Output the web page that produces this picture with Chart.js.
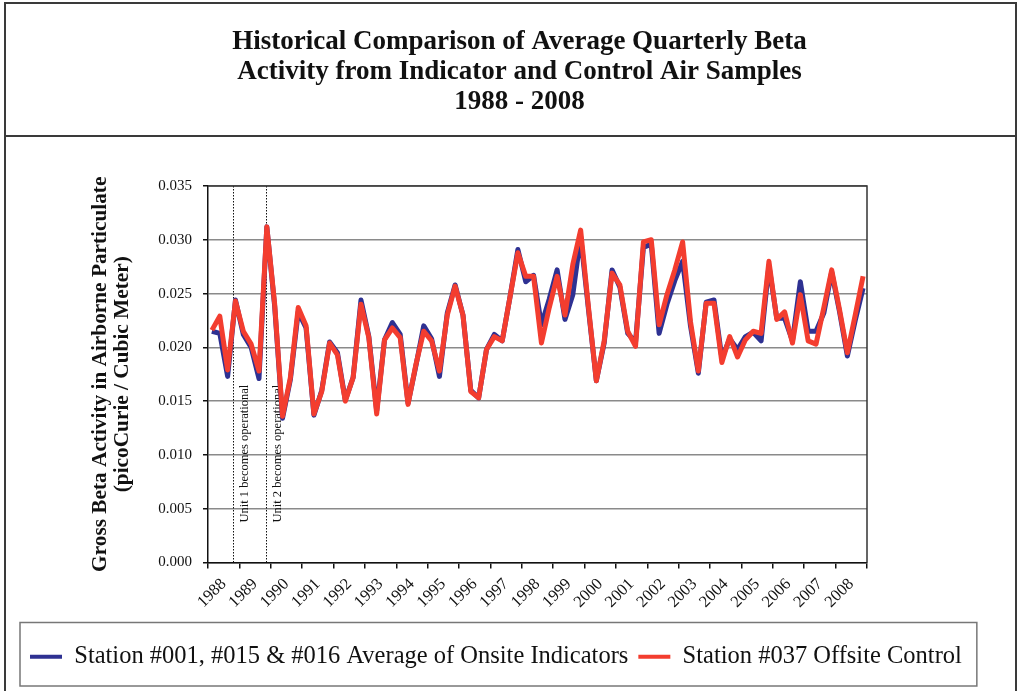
<!DOCTYPE html>
<html>
<head>
<meta charset="utf-8">
<title>Historical Comparison of Average Quarterly Beta Activity</title>
<script src="https://cdn.jsdelivr.net/npm/chart.js@4.4.0/dist/chart.umd.min.js"></script>
<style>
    html, body { margin: 0; padding: 0; background: #fff; }
    #wrap { width: 1019px; height: 691px; }
</style>
</head>
<body>
<div id="wrap"><canvas id="betaChart" width="1019" height="691"></canvas></div>
<script>
// Year labels (one per 4 quarters)
const years = ['1988', '1989', '1990', '1991', '1992', '1993', '1994', '1995', '1996', '1997',
    '1998', '1999', '2000', '2001', '2002', '2003', '2004', '2005', '2006', '2007', '2008'];

// Quarterly averages, pCi/m3
const onsite = [0.0215, 0.0213, 0.0173, 0.0244, 0.0212, 0.0200, 0.0171, 0.0312, 0.0238, 0.0134,
    0.0170, 0.0233, 0.0218, 0.0137, 0.0160, 0.0205, 0.0195, 0.0151, 0.0172, 0.0244,
    0.0210, 0.0141, 0.0207, 0.0223, 0.0212, 0.0148, 0.0183, 0.0220, 0.0208, 0.0173,
    0.0232, 0.0258, 0.0230, 0.0160, 0.0153, 0.0198, 0.0212, 0.0206, 0.0247, 0.0291,
    0.0261, 0.0267, 0.0221, 0.0245, 0.0272, 0.0226, 0.0249, 0.0303, 0.0235, 0.0169,
    0.0204, 0.0272, 0.0256, 0.0213, 0.0205, 0.0293, 0.0296, 0.0213, 0.0240, 0.0262,
    0.0280, 0.0220, 0.0176, 0.0242, 0.0244, 0.0190, 0.0208, 0.0198, 0.0210, 0.0214,
    0.0206, 0.0276, 0.0227, 0.0227, 0.0206, 0.0261, 0.0215, 0.0215, 0.0232, 0.0270,
    0.0233, 0.0192, 0.0225, 0.0255];

const offsite = [0.0216, 0.0229, 0.0179, 0.0243, 0.0215, 0.0203, 0.0178, 0.0312, 0.0240, 0.0136,
    0.0172, 0.0237, 0.0220, 0.0138, 0.0159, 0.0204, 0.0193, 0.0150, 0.0172, 0.0240,
    0.0209, 0.0138, 0.0207, 0.0218, 0.0209, 0.0147, 0.0184, 0.0215, 0.0206, 0.0178,
    0.0230, 0.0257, 0.0230, 0.0159, 0.0153, 0.0198, 0.0210, 0.0206, 0.0247, 0.0288,
    0.0266, 0.0266, 0.0204, 0.0237, 0.0266, 0.0230, 0.0277, 0.0309, 0.0237, 0.0169,
    0.0206, 0.0269, 0.0258, 0.0215, 0.0201, 0.0298, 0.0300, 0.0221, 0.0249, 0.0272,
    0.0298, 0.0224, 0.0178, 0.0241, 0.0241, 0.0186, 0.0210, 0.0191, 0.0207, 0.0215,
    0.0213, 0.0280, 0.0226, 0.0233, 0.0204, 0.0249, 0.0206, 0.0203, 0.0237, 0.0272,
    0.0235, 0.0195, 0.0230, 0.0266];

const yTicks = [0, 0.005, 0.010, 0.015, 0.020, 0.025, 0.030, 0.035];

// Plant events, in quarters since Jan 1988
const eventQuarters = [3.25, 7.45];
const eventLabels = ['Unit 1 becomes operational', 'Unit 2 becomes operational'];

const serif = '"Liberation Serif", "Times New Roman", serif';

// 1. Frame, plot border, legend box
const framePlugin = {
    id: 'frame',
    beforeDraw(chart) {
        const ctx = chart.ctx;
        ctx.save();
        ctx.fillStyle = '#fff';
        ctx.fillRect(0, 0, chart.width, chart.height);
        ctx.strokeStyle = '#3a3a3a';
        ctx.lineWidth = 2;
        ctx.strokeRect(5, 3, chart.width - 8, chart.height - 2);
        ctx.beginPath();
        ctx.moveTo(5, 136);
        ctx.lineTo(chart.width - 3, 136);
        ctx.stroke();
        ctx.restore();
    },
    beforeDatasetsDraw(chart) {
        const ctx = chart.ctx;
        const area = chart.chartArea;
        const xs = chart.scales.x;
        ctx.save();
        // event markers
        eventQuarters.forEach((q, i) => {
            const px = Math.round(xs.getPixelForValue(q)) + 0.5;
            ctx.strokeStyle = '#111';
            ctx.lineWidth = 1;
            ctx.setLineDash([1.5, 1.5]);
            ctx.beginPath();
            ctx.moveTo(px, area.top);
            ctx.lineTo(px, area.bottom);
            ctx.stroke();
            ctx.setLineDash([]);
            ctx.translate(px + 11.5, area.bottom - 40);
            ctx.rotate(-Math.PI / 2);
            ctx.fillStyle = '#111';
            ctx.font = '12.5px ' + serif;
            ctx.textAlign = 'left';
            ctx.textBaseline = 'middle';
            ctx.fillText(eventLabels[i], 0, 0);
            ctx.setTransform(1, 0, 0, 1, 0, 0);
        });
        // plot border (top / right)
        ctx.strokeStyle = '#333';
        ctx.lineWidth = 1.5;
        ctx.beginPath();
        ctx.moveTo(area.left, area.top);
        ctx.lineTo(area.right, area.top);
        ctx.lineTo(area.right, area.bottom);
        ctx.stroke();
        ctx.restore();
    },
    afterDraw(chart) {
        const boxes = chart.legend.legendHitBoxes;
        if (!boxes || !boxes.length) return;
        const ctx = chart.ctx;
        const first = boxes[0];
        const last = boxes[boxes.length - 1];
        ctx.save();
        ctx.strokeStyle = '#777';
        ctx.lineWidth = 1.5;
        ctx.strokeRect(first.left - 10, first.top - 22, last.left + last.width + 15 - (first.left - 10), first.height + 39);
        ctx.restore();
    }
};

// 2. Build the chart
document.addEventListener('DOMContentLoaded', function () {
    const ctx = document.getElementById('betaChart').getContext('2d');
    const toPoints = arr => arr.map((v, i) => ({x: i + 0.5, y: v}));

    new Chart(ctx, {
        type: 'line',
        data: {
            datasets: [{
                    label: 'Station #001, #015 & #016 Average of Onsite Indicators',
                    data: toPoints(onsite),
                    borderColor: '#2e3192',
                    backgroundColor: '#2e3192',
                    borderWidth: 5,
                    pointRadius: 0,
                    tension: 0,
                    borderJoinStyle: 'round',
                    order: 1
                }, {
                    label: 'Station #037 Offsite Control',
                    data: toPoints(offsite),
                    borderColor: '#f33d2f',
                    backgroundColor: '#f33d2f',
                    borderWidth: 5,
                    pointRadius: 0,
                    tension: 0,
                    borderJoinStyle: 'round',
                    order: 0
                }]
        },
        options: {
            responsive: false,
            animation: false,
            layout: {padding: {left: 20, right: 0, top: 2, bottom: 12}},
            scales: {
                x: {
                    type: 'linear',
                    min: 0,
                    max: years.length * 4,
                    afterBuildTicks: axis => {
                        axis.ticks = [];
                        for (let q = 0; q <= years.length * 4; q += 2) {
                            axis.ticks.push({value: q});
                        }
                    },
                    afterFit: scale => { scale.height = 72; },
                    ticks: {
                        autoSkip: false,
                        minRotation: 45,
                        maxRotation: 45,
                        padding: 6,
                        color: '#111',
                        font: {family: serif, size: 16.5},
                        callback: v => (v % 4 === 2 ? years[(v - 2) / 4] : '')
                    },
                    grid: {
                        drawOnChartArea: false,
                        tickLength: 6,
                        lineWidth: 1.5,
                        tickColor: c => (c.tick && c.tick.value % 4 === 0 ? '#111' : 'rgba(0,0,0,0)')
                    },
                    border: {color: '#111', width: 1.5}
                },
                y: {
                    min: 0,
                    max: 0.035,
                    afterBuildTicks: axis => { axis.ticks = yTicks.map(v => ({value: v})); },
                    afterFit: scale => { scale.width = 188; },
                    ticks: {
                        padding: 11,
                        color: '#111',
                        font: {family: serif, size: 15},
                        callback: v => v.toFixed(3)
                    },
                    grid: {color: '#8a8a8a', lineWidth: 1.5, tickLength: 5, tickColor: '#111'},
                    border: {color: '#111', width: 1.5},
                    title: {
                        display: true,
                        text: ['Gross Beta Activity in Airborne Particulate', '(picoCurie / Cubic Meter)'],
                        color: '#111',
                        font: {family: serif, size: 21.3, weight: 'bold', lineHeight: 1.05},
                        padding: {top: 69, bottom: 0}
                    }
                },
                spacer: {
                    position: 'right',
                    display: true,
                    ticks: {display: false},
                    grid: {display: false},
                    border: {display: false},
                    afterFit: scale => { scale.width = 152; }
                }
            },
            plugins: {
                title: {
                    display: true,
                    text: ['Historical Comparison of Average Quarterly Beta',
                        'Activity from Indicator and Control Air Samples',
                        '1988 - 2008'],
                    color: '#111',
                    font: {family: serif, size: 27, weight: 'bold', lineHeight: 30 / 27},
                    padding: {top: 25, bottom: 69}
                },
                legend: {
                    position: 'bottom',
                    align: 'start',
                    labels: {
                        boxWidth: 32,
                        boxHeight: 4,
                        padding: 10,
                        color: '#111',
                        font: {family: serif, size: 24.5},
                        sort: (a, b) => a.datasetIndex - b.datasetIndex,
                        generateLabels: chart => Chart.defaults.plugins.legend.labels.generateLabels(chart)
                                .map(item => Object.assign(item, {lineWidth: 0}))
                    }
                },
                tooltip: {enabled: false}
            }
        },
        plugins: [framePlugin]
    });
});
</script>
</body>
</html>
